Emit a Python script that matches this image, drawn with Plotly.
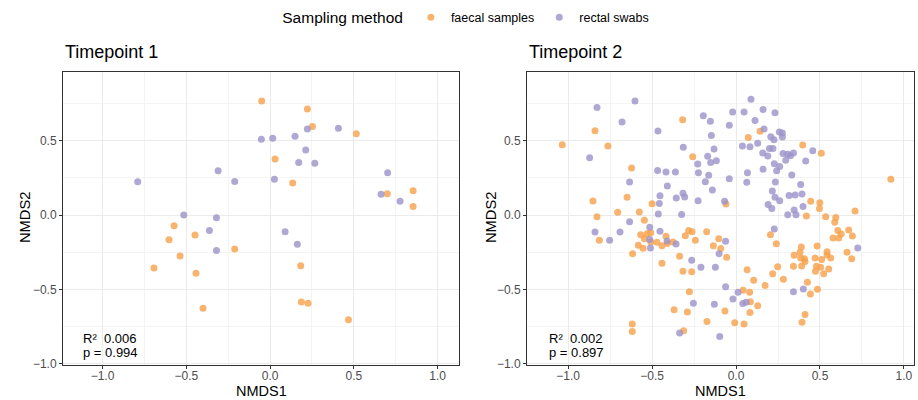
import plotly.graph_objects as go

# Timepoint 1 (NMDS coordinates)
t1_faecal_x = [-0.050, 0.223, 0.253, 0.515, 0.030, 0.135, 0.700, 0.854, 0.854, -0.573, -0.448,
               -0.603, -0.537, -0.693, -0.442, -0.211, -0.400, 0.183, 0.187, 0.227, 0.468]
t1_faecal_y = [0.767, 0.713, 0.596, 0.547, 0.377, 0.215, 0.143, 0.164, 0.058, -0.072, -0.135,
               -0.166, -0.276, -0.357, -0.392, -0.229, -0.628, -0.341, -0.585, -0.594, -0.704]
t1_rectal_x = [-0.790, -0.310, -0.211, -0.052, 0.016, 0.149, 0.223, 0.408, 0.213, 0.171, 0.267,
               0.026, 0.702, 0.663, 0.776, -0.515, -0.320, -0.362, -0.320, 0.090, 0.163]
t1_rectal_y = [0.224, 0.298, 0.226, 0.509, 0.516, 0.529, 0.578, 0.583, 0.437, 0.354, 0.348,
               0.240, 0.285, 0.139, 0.092, 0.000, -0.018, -0.105, -0.238, -0.112, -0.197]

# Timepoint 2
t2_faecal_x = [-1.035, -0.840, -0.763, -0.318, 0.143, 0.073, -0.258, -0.622, -0.649, -0.852,
               -0.828, -0.705, -0.576, -0.500, -0.060, 0.397, 0.508, 0.922, 0.445, 0.499,
               0.497, 0.419, 0.534, 0.594, 0.588, 0.709, -0.546,
               -0.568, -0.530, -0.546, -0.508, -0.582, -0.554, -0.508, -0.471, -0.441, -0.417,
               -0.375, -0.409, -0.336, -0.316, -0.264, -0.278, -0.369, -0.290, -0.312, -0.616,
               -0.618, -0.618, -0.441, -0.302, -0.282, -0.262, -0.242, -0.175, -0.135, -0.103,
               -0.091, -0.056, -0.066, -0.173, -0.008, 0.048, -0.814,
               0.205, 0.240, 0.389, 0.381, 0.346, 0.385, 0.407, 0.411, 0.342, 0.391,
               0.248, 0.218, 0.282, 0.425, 0.485, 0.443, 0.483, 0.471, 0.510, 0.479,
               0.504, 0.473, 0.522, 0.552, 0.542, 0.542, 0.564, 0.606, 0.626, 0.578,
               0.612, 0.671, 0.693, 0.661, 0.689, 0.066, 0.105, 0.173, 0.042, 0.081,
               0.085, 0.129, 0.083, 0.411, 0.393]
t2_faecal_y = [0.473, 0.567, 0.464, 0.641, 0.563, 0.522, 0.392, 0.316, 0.119, 0.094,
               -0.011, 0.018, 0.020, 0.076, 0.074, 0.471, 0.415, 0.240, 0.092, 0.083,
               0.043, -0.007, -0.011, -0.016, -0.049, 0.027, -0.036,
               -0.132, -0.126, -0.159, -0.119, -0.204, -0.224, -0.182, -0.184, -0.206, -0.143,
               -0.182, -0.191, -0.278, -0.379, -0.381, -0.516, -0.637, -0.652, -0.778, -0.260,
               -0.733, -0.783, -0.325, -0.139, -0.105, -0.112, -0.170, -0.112, -0.206, -0.159,
               -0.226, -0.285, -0.646, -0.717, -0.724, -0.733, -0.170,
               -0.132, -0.193, -0.215, -0.251, -0.271, -0.289, -0.294, -0.312, -0.345, -0.343,
               -0.348, -0.395, -0.433, -0.453, -0.500, -0.531, -0.209, -0.289, -0.300, -0.345,
               -0.352, -0.379, -0.395, -0.363, -0.247, -0.269, -0.289, -0.105, -0.128, -0.155,
               -0.155, -0.101, -0.141, -0.251, -0.294, -0.368, -0.439, -0.475, -0.507, -0.520,
               -0.583, -0.610, -0.655, -0.670, -0.722]
t2_rectal_x = [-0.828, -0.602, -0.679, -0.465, -0.872, 0.089, -0.020, 0.048, -0.195, -0.153,
               0.161, 0.232, 0.113, -0.040, -0.147, 0.167, 0.207, 0.258, 0.276, 0.276,
               0.226, 0.129, 0.038, 0.083, -0.314, -0.131, -0.169, -0.151, -0.117, -0.228,
               0.159, 0.189, 0.199, 0.220, 0.280, 0.308, 0.324, 0.342, 0.296, 0.228,
               0.260, 0.242, 0.161, 0.068, 0.064, -0.040, -0.224, -0.163, -0.183, -0.141,
               0.332, 0.457, 0.415, -0.467, -0.417, -0.361, -0.634, -0.409, -0.453, -0.316,
               -0.306, -0.356, -0.457, -0.226, -0.068, 0.216, 0.234, 0.232, 0.260, 0.191,
               0.213, 0.316, 0.352, 0.385, 0.393, 0.399, 0.346, 0.357, 0.308, -0.324,
               -0.463, -0.634,
               -0.840, -0.753, -0.691, -0.514, -0.514, -0.510, -0.453, -0.411, -0.357, -0.264,
               -0.209, -0.123, -0.101, -0.062, -0.062, -0.254, -0.129, -0.336, -0.097, 0.228,
               0.725, 0.012, -0.018, 0.040, 0.060, 0.342, 0.401]
t2_rectal_y = [0.724, 0.767, 0.626, 0.565, 0.386, 0.778, 0.693, 0.693, 0.668, 0.630,
               0.709, 0.688, 0.635, 0.603, 0.534, 0.578, 0.527, 0.558, 0.552, 0.525,
               0.507, 0.482, 0.464, 0.460, 0.455, 0.444, 0.395, 0.354, 0.365, 0.343,
               0.417, 0.397, 0.448, 0.448, 0.413, 0.408, 0.399, 0.417, 0.368, 0.345,
               0.327, 0.298, 0.307, 0.285, 0.220, 0.244, 0.285, 0.267, 0.224, 0.168,
               0.269, 0.433, 0.363, 0.300, 0.289, 0.289, 0.222, 0.195, 0.130, 0.146,
               0.121, 0.114, 0.078, 0.096, 0.092, 0.161, 0.222, 0.119, 0.096, 0.070,
               0.043, 0.132, 0.135, 0.206, 0.141, 0.058, 0.034, 0.002, 0.002, 0.004,
               0.007, -0.045,
               -0.114, -0.170, -0.114, -0.083, -0.164, -0.222, -0.110, -0.175, -0.195, -0.305,
               -0.352, -0.352, -0.260, -0.177, -0.482, -0.594, -0.601, -0.794, -0.818, -0.094,
               -0.222, -0.520, -0.565, -0.596, -0.587, -0.516, -0.498]

panel_titles = ["Timepoint 1", "Timepoint 2"]
r2_labels = ["0.006", "0.002"]
p_labels = ["0.994", "0.897"]

faecal_col = "rgba(246,161,74,0.8)"
rectal_col = "rgba(156,146,201,0.8)"
font = "Liberation Sans, Arial, sans-serif"

fig = go.Figure()

panels = [("x", "y", t1_faecal_x, t1_faecal_y, t1_rectal_x, t1_rectal_y),
          ("x2", "y2", t2_faecal_x, t2_faecal_y, t2_rectal_x, t2_rectal_y)]
for i, (xa, ya, fx, fy, rx, ry) in enumerate(panels):
    fig.add_trace(go.Scatter(x=fx, y=fy, mode="markers", xaxis=xa, yaxis=ya,
                             name="faecal samples", legendgroup="f", showlegend=(i == 0),
                             marker=dict(color=faecal_col, size=7, line=dict(width=0))))
    fig.add_trace(go.Scatter(x=rx, y=ry, mode="markers", xaxis=xa, yaxis=ya,
                             name="rectal swabs", legendgroup="r", showlegend=(i == 0),
                             marker=dict(color=rectal_col, size=7, line=dict(width=0))))

axis_common = dict(showline=True, mirror=True, linecolor="#333333", linewidth=1,
                   ticks="outside", ticklen=3, tickcolor="#333333", tickwidth=1,
                   tickfont=dict(size=12, color="#4D4D4D"), dtick=0.5, tickformat=".1f",
                   showgrid=True, gridcolor="#EBEBEB", gridwidth=1, zeroline=False,
                   minor=dict(dtick=0.25, showgrid=True, gridcolor="#F4F4F4", gridwidth=1),
                   automargin=False)
x_extra = dict(ticklabelstandoff=-3)

fig.update_layout(
    width=918, height=400,
    margin=dict(l=0, r=0, t=0, b=0),
    plot_bgcolor="white", paper_bgcolor="white",
    font=dict(family=font, color="black"),
    xaxis=dict(axis_common, **x_extra, domain=[63 / 918, 459 / 918], range=[-1.236, 1.128],
               anchor="y"),
    yaxis=dict(axis_common, domain=[35 / 400, 328 / 400], range=[-1.009, 0.962], anchor="x"),
    xaxis2=dict(axis_common, **x_extra, domain=[527 / 918, 914 / 918], range=[-1.245, 1.06],
                anchor="y2"),
    yaxis2=dict(axis_common, domain=[35 / 400, 328 / 400], range=[-1.009, 0.962], anchor="x2"),
    legend=dict(orientation="h", x=0.509, xanchor="center", y=1 - 18 / 400, yanchor="middle",
                font=dict(size=12.5), itemwidth=30,
                title=dict(text="Sampling method", font=dict(size=15.5), side="left")),
)

title_x = [63 / 918, 527 / 918]
ann_x = [81 / 918, 547 / 918]
xtitle_x = [261 / 918, 720.5 / 918]
ytitle_x = [25 / 918, 491 / 918]
for i in range(2):
    fig.add_annotation(text=panel_titles[i], xref="paper", yref="paper", x=title_x[i],
                       y=1 - 52 / 400, xanchor="left", yanchor="middle", showarrow=False,
                       font=dict(size=18))
    fig.add_annotation(text="NMDS1", xref="paper", yref="paper", x=xtitle_x[i],
                       y=0, xanchor="center", yanchor="bottom", showarrow=False,
                       borderpad=0, font=dict(size=14.5))
    fig.add_annotation(text="NMDS2", xref="paper", yref="paper", x=ytitle_x[i],
                       y=1 - 218 / 400, xanchor="center", yanchor="middle", showarrow=False,
                       textangle=-90, font=dict(size=14.7))
    fig.add_annotation(text="R\u00b2\u00a0\u00a0" + r2_labels[i], xref="paper", yref="paper",
                       x=ann_x[i], y=1 - 338 / 400, xanchor="left", yanchor="middle",
                       showarrow=False, font=dict(size=13))
    fig.add_annotation(text="p = " + p_labels[i], xref="paper", yref="paper",
                       x=ann_x[i], y=1 - 352 / 400, xanchor="left", yanchor="middle",
                       showarrow=False, font=dict(size=13))

fig.write_html("out.html", config={"displayModeBar": False},
               post_script="document.body.style.margin='0';")
